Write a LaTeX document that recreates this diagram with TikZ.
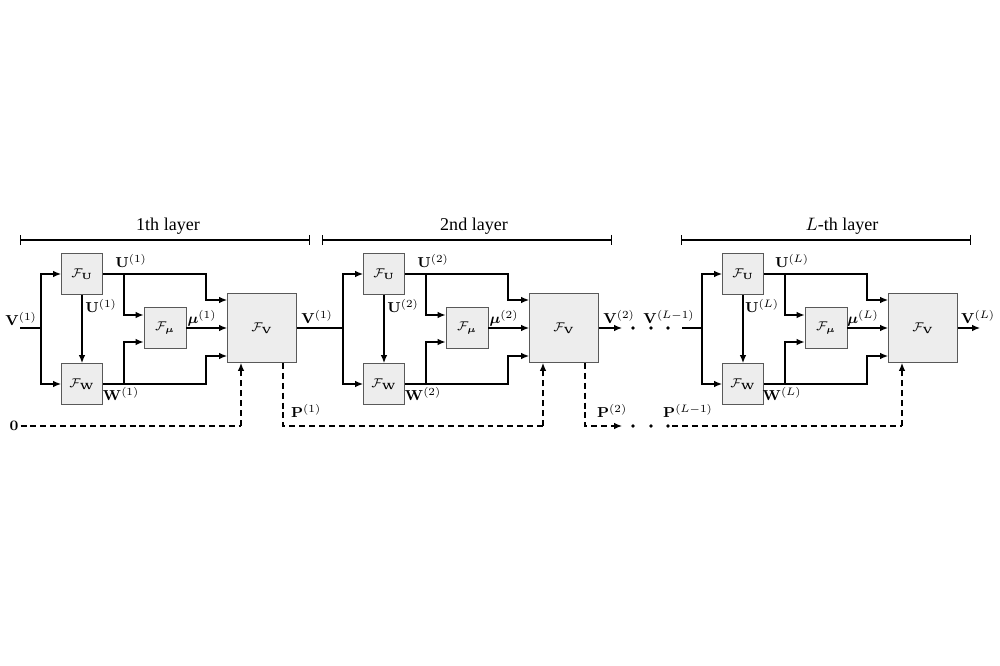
\documentclass[tikz,border=0pt]{standalone}
\usepackage{amsmath,amssymb}
\usepackage[no-math]{fontspec}
\setmainfont{Liberation Serif}
\usetikzlibrary{arrows.meta,calc}
\begin{document}
\begin{tikzpicture}[x=0.555pt,y=-0.555pt,
  tip/.style={-{Latex[length=4.4pt,width=3.6pt]}},
  wire/.style={line width=0.65pt},
  conn/.style={wire,tip},
  dsh/.style={line width=0.65pt,dash pattern=on 3.3pt off 2.2pt},
  dconn/.style={dsh,tip},
  sbox/.style={draw=black!65,fill=black!7,line width=0.5pt,minimum width=41*0.555pt,minimum height=41*0.555pt,inner sep=0pt,font=\scriptsize},
  bbox/.style={sbox,minimum width=69*0.555pt,minimum height=69*0.555pt},
  lbl/.style={inner sep=1pt,font=\footnotesize},
  brk/.style={line width=0.65pt,{Bar[width=5.6pt]}-{Bar[width=5.6pt]}},
  dot/.style={circle,fill=black,inner sep=0pt,minimum size=2.1pt}]
\useasboundingbox (0,0) rectangle (1000,666);

\foreach \i/\o/\lx/\t in {1/0/168/{1th layer}, 2/302/172/{2nd layer}, L/661/181/{$L$-th layer}} {
  \begin{scope}[xshift=\o*0.555pt]
    \node[sbox] (fu\i) at (82,274) {$\mathcal{F}_{\mathbf{U}}$};
    \node[sbox] (fw\i) at (82,384) {$\mathcal{F}_{\mathbf{W}}$};
    \node[sbox,minimum width=42*0.555pt] (fm\i) at (165,328) {$\mathcal{F}_{\boldsymbol{\mu}}$};
    \node[bbox] (fv\i) at (262,328) {$\mathcal{F}_{\mathbf{V}}$};
    \coordinate (br\i) at (41,328);
    \coordinate (bu\i) at (124,274);
    \coordinate (bw\i) at (124,384);
    \coordinate (ma\i) at (124,315);
    \coordinate (mb\i) at (124,342);
    \coordinate (cu\i) at (206,300);
    \coordinate (cw\i) at (206,356);
    \coordinate (pin\i) at (241,426);
    \coordinate (pout\i) at (283,426);
    \coordinate (ls\i) at (20,240);
    \coordinate (le\i) at (310,240);
    % bracket and title
    \draw[brk] (ls\i) -- (le\i);
    \node[inner sep=1pt] (title\i) at (\lx,226) {\t};
    % connectors
    \draw[conn] (br\i) |- (fu\i.west);
    \draw[conn] (br\i) |- (fw\i.west);
    \draw[conn] (fu\i) -- (fw\i);
    \draw[wire] (fu\i.east) -- (bu\i);
    \draw[conn] (bu\i) -| (cu\i) -- (cu\i -| fv\i.west);
    \draw[conn] (bu\i) -- (ma\i) -- (ma\i -| fm\i.west);
    \draw[wire] (fw\i.east) -- (bw\i);
    \draw[conn] (bw\i) -| (cw\i) -- (cw\i -| fv\i.west);
    \draw[conn] (bw\i) -- (mb\i) -- (mb\i -| fm\i.west);
    \draw[conn] (fm\i) -- (fv\i);
    \draw[dconn] (pin\i) -- (pin\i |- fv\i.south);
    % labels
    \node[lbl] (ut\i) at (131,261) {$\mathbf{U}^{(\i)}$};
    \node[lbl] (ui\i) at (101,306) {$\mathbf{U}^{(\i)}$};
    \node[lbl] (wl\i) at (121,394) {$\mathbf{W}^{(\i)}$};
    \node[lbl] (ml\i) at (202,318) {$\boldsymbol{\mu}^{(\i)}$};
    \node[lbl] (vo\i) at (317,317) {$\mathbf{V}^{(\i)}$};
  \end{scope}
}

% layer 1 input
\coordinate (in1) at (20,328);
\node[lbl] (vin1) at (21,319) {$\mathbf{V}^{(1)}$};
\draw[wire] (in1) -- (br1);
\node[lbl] (zero) at (14,426) {$\mathbf{0}$};
\draw[dsh] (zero.east) -- (pin1);

% layer 1 -> layer 2
\draw[wire] (fv1.east) -- (br2);
\draw[dsh] (fv1.south -| pout1) -- (pout1) -- (pin2);
\node[lbl,anchor=west] (pl1) at (289,411) {$\mathbf{P}^{(1)}$};

% layer 2 outputs
\coordinate (o2) at (622,328);
\draw[conn] (fv2.east) -- (o2);
\coordinate (po2) at (622,426);
\draw[dconn] (fv2.south -| pout2) -- (pout2) -- (po2);
\node[lbl,anchor=west] (pl2) at (595,411) {$\mathbf{P}^{(2)}$};

% dots
\foreach \x [count=\k] in {633,651,668} {
  \node[dot] (du\k) at (\x,328) {};
  \node[dot] (dd\k) at (\x,426) {};
}

% layer L input
\coordinate (inL) at (682,328);
\node[lbl] (vinL) at (669,317) {$\mathbf{V}^{(L-1)}$};
\draw[wire] (inL) -- (brL);
\coordinate (psL) at (672,426);
\draw[dsh] (psL) -- (pinL);
\node[lbl] (plL) at (688,411) {$\mathbf{P}^{(L-1)}$};

% layer L output
\coordinate (oL) at (980,328);
\draw[conn] (fvL.east) -- (oL);
\end{tikzpicture}
\end{document}
